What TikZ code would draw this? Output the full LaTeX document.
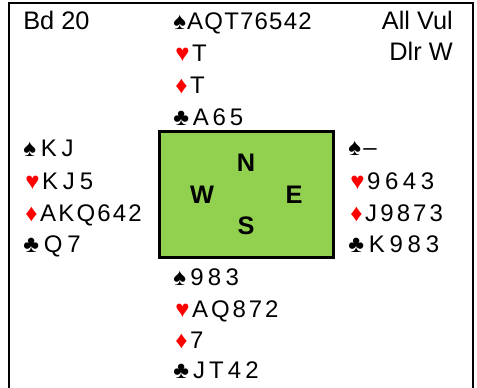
\documentclass[tikz,border=0pt]{standalone}
\usepackage{fontspec}
\setmainfont{Liberation Sans}
\definecolor{tablegreen}{RGB}{146,208,80}
\definecolor{suitred}{RGB}{255,0,0}
\newcommand{\Sp}{♠}
\newcommand{\Ht}{\kern1.5pt{\color{suitred}♥}\kern2pt}
\newcommand{\Dm}{\kern1.5pt{\color{suitred}♦}\kern2pt}
\newcommand{\Cl}{♣}
\tikzset{
  info/.style={inner sep=0pt, font=\fontsize{19}{22}\selectfont},
  cards/.style={anchor=base west, inner sep=0pt, font=\fontsize{18}{22}\selectfont\addfontfeature{LetterSpace=#1}},
  cards/.default=10,
  seat/.style={inner sep=0pt, font=\fontsize{19}{22}\selectfont\bfseries},
  table/.style={draw=black, line width=2.25pt, fill=tablegreen, inner sep=0pt, minimum width=130.5pt, minimum height=94.5pt},
  frame/.style={draw=black, line width=1.5pt}
}
\begin{document}
\begin{tikzpicture}[x=0.75pt,y=-0.75pt]
\useasboundingbox (0,0) rectangle (477,387);
\draw[frame] (9,395) -- (9,3) -- (473,3) -- (473,395);

\node[table] (table) at (246.5,194.5) {};
\node[seat] (north) at (246,163) {N};
\node[seat] (west) at (202,195) {W};
\node[seat] (east) at (294,195) {E};
\node[seat] (south) at (246,226) {S};

\node[info,anchor=base west] (board) at (23,29) {Bd 20};
\node[info,anchor=base east] (vul) at (453,29) {All Vul};
\node[info,anchor=base east] (dealer) at (453,60) {Dlr W};

% North
\node[cards=5] (n-s) at (173,29) {\Sp AQT76542};
\node[cards] (n-h) at (173,61) {\Ht T};
\node[cards] (n-d) at (173,93) {\Dm T};
\node[cards=16] (n-c) at (173,125) {\Cl A65};

% West
\node[cards=20] (w-s) at (23,156) {\Sp KJ};
\node[cards=20] (w-h) at (23,189) {\Ht KJ5};
\node[cards=9] (w-d) at (23,221) {\Dm AKQ642};
\node[cards=20] (w-c) at (23,252) {\Cl Q7};

% East
\node[cards] (e-s) at (348,155) {\Sp –};
\node[cards=19] (e-h) at (348,189) {\Ht 9643};
\node[cards=13] (e-d) at (348,221) {\Dm J9873};
\node[cards=20] (e-c) at (348,252) {\Cl K983};

% South
\node[cards=18] (s-s) at (173,285) {\Sp 983};
\node[cards=12] (s-h) at (173,317) {\Ht AQ872};
\node[cards] (s-d) at (173,348) {\Dm 7};
\node[cards=17] (s-c) at (173,378) {\Cl JT42};
\end{tikzpicture}
\end{document}
